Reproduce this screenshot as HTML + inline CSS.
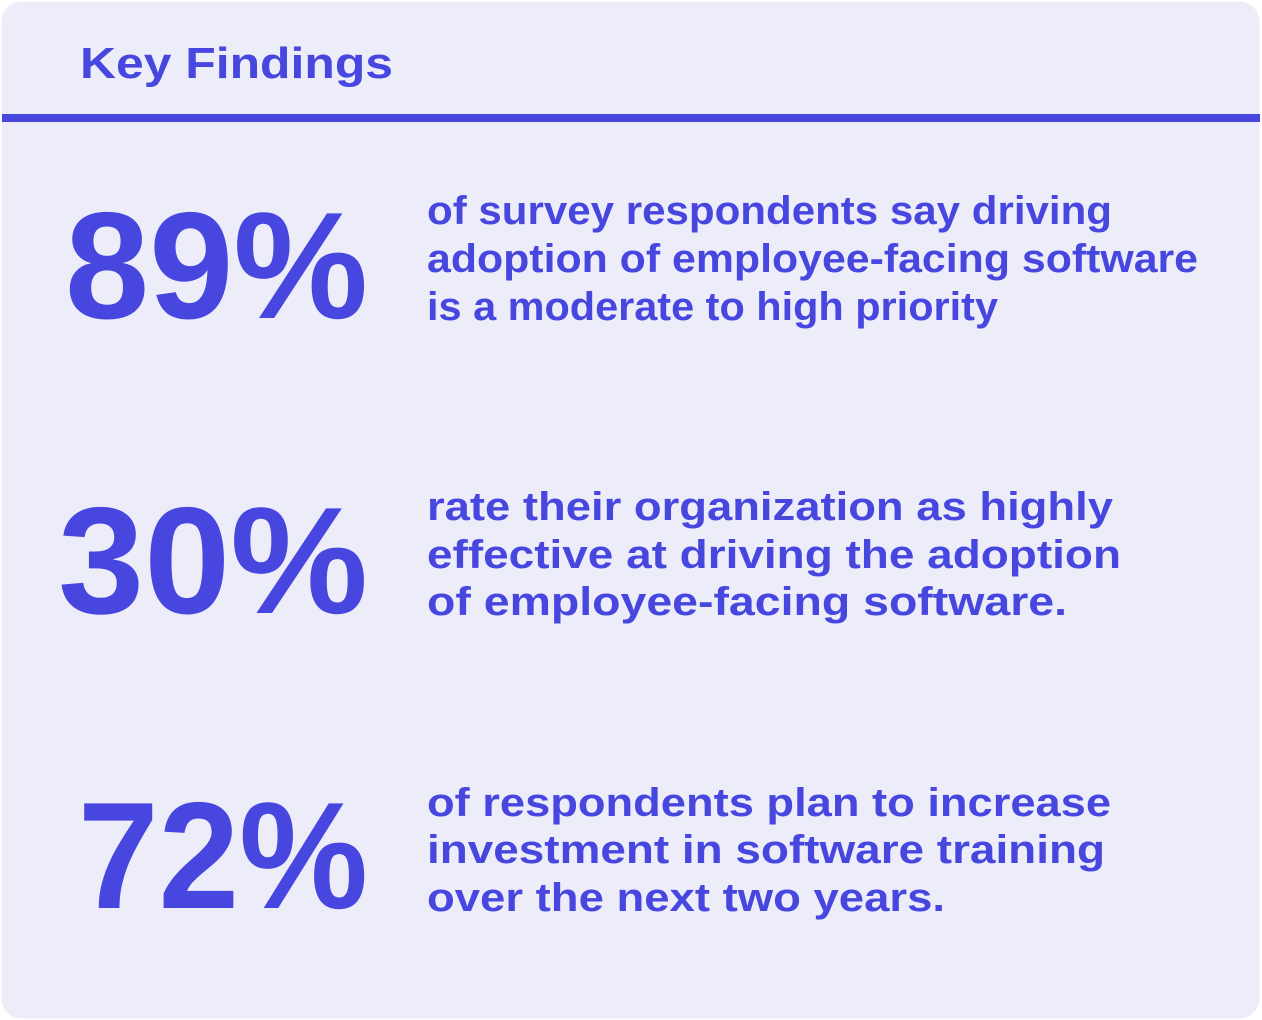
<!DOCTYPE html>
<html><head><meta charset="utf-8"><style>
html,body{margin:0;padding:0;background:#fff;}
svg{display:block}
text{font-family:"Liberation Sans",sans-serif;font-weight:bold;fill:#4747e0}
</style></head><body>
<svg width="1262" height="1020" viewBox="0 0 1262 1020">
<rect x="1.5" y="1.5" width="1258" height="1017" rx="20" fill="#ededfa"/>
<rect x="2" y="114" width="1258" height="8" fill="#4747e0"/>
<text x="80" y="78" font-size="44" textLength="313" lengthAdjust="spacingAndGlyphs">Key Findings</text>

<text x="65" y="318" font-size="152" textLength="303" lengthAdjust="spacingAndGlyphs">89%</text>
<text x="58" y="613" font-size="152" textLength="310" lengthAdjust="spacingAndGlyphs">30%</text>
<text x="78" y="908" font-size="152" textLength="290" lengthAdjust="spacingAndGlyphs">72%</text>

<g font-size="40">
<text x="427" y="224" textLength="685" lengthAdjust="spacingAndGlyphs">of survey respondents say driving</text>
<text x="427" y="272" textLength="771" lengthAdjust="spacingAndGlyphs">adoption of employee-facing software</text>
<text x="427" y="320" textLength="571" lengthAdjust="spacingAndGlyphs">is a moderate to high priority</text>

<text x="427" y="520" textLength="686" lengthAdjust="spacingAndGlyphs">rate their organization as highly</text>
<text x="427" y="568" textLength="694" lengthAdjust="spacingAndGlyphs">effective at driving the adoption</text>
<text x="427" y="615" textLength="640" lengthAdjust="spacingAndGlyphs">of employee-facing software.</text>

<text x="427" y="816" textLength="684" lengthAdjust="spacingAndGlyphs">of respondents plan to increase</text>
<text x="427" y="863" textLength="678" lengthAdjust="spacingAndGlyphs">investment in software training</text>
<text x="427" y="911" textLength="518" lengthAdjust="spacingAndGlyphs">over the next two years.</text>
</g>
</svg>
</body></html>
